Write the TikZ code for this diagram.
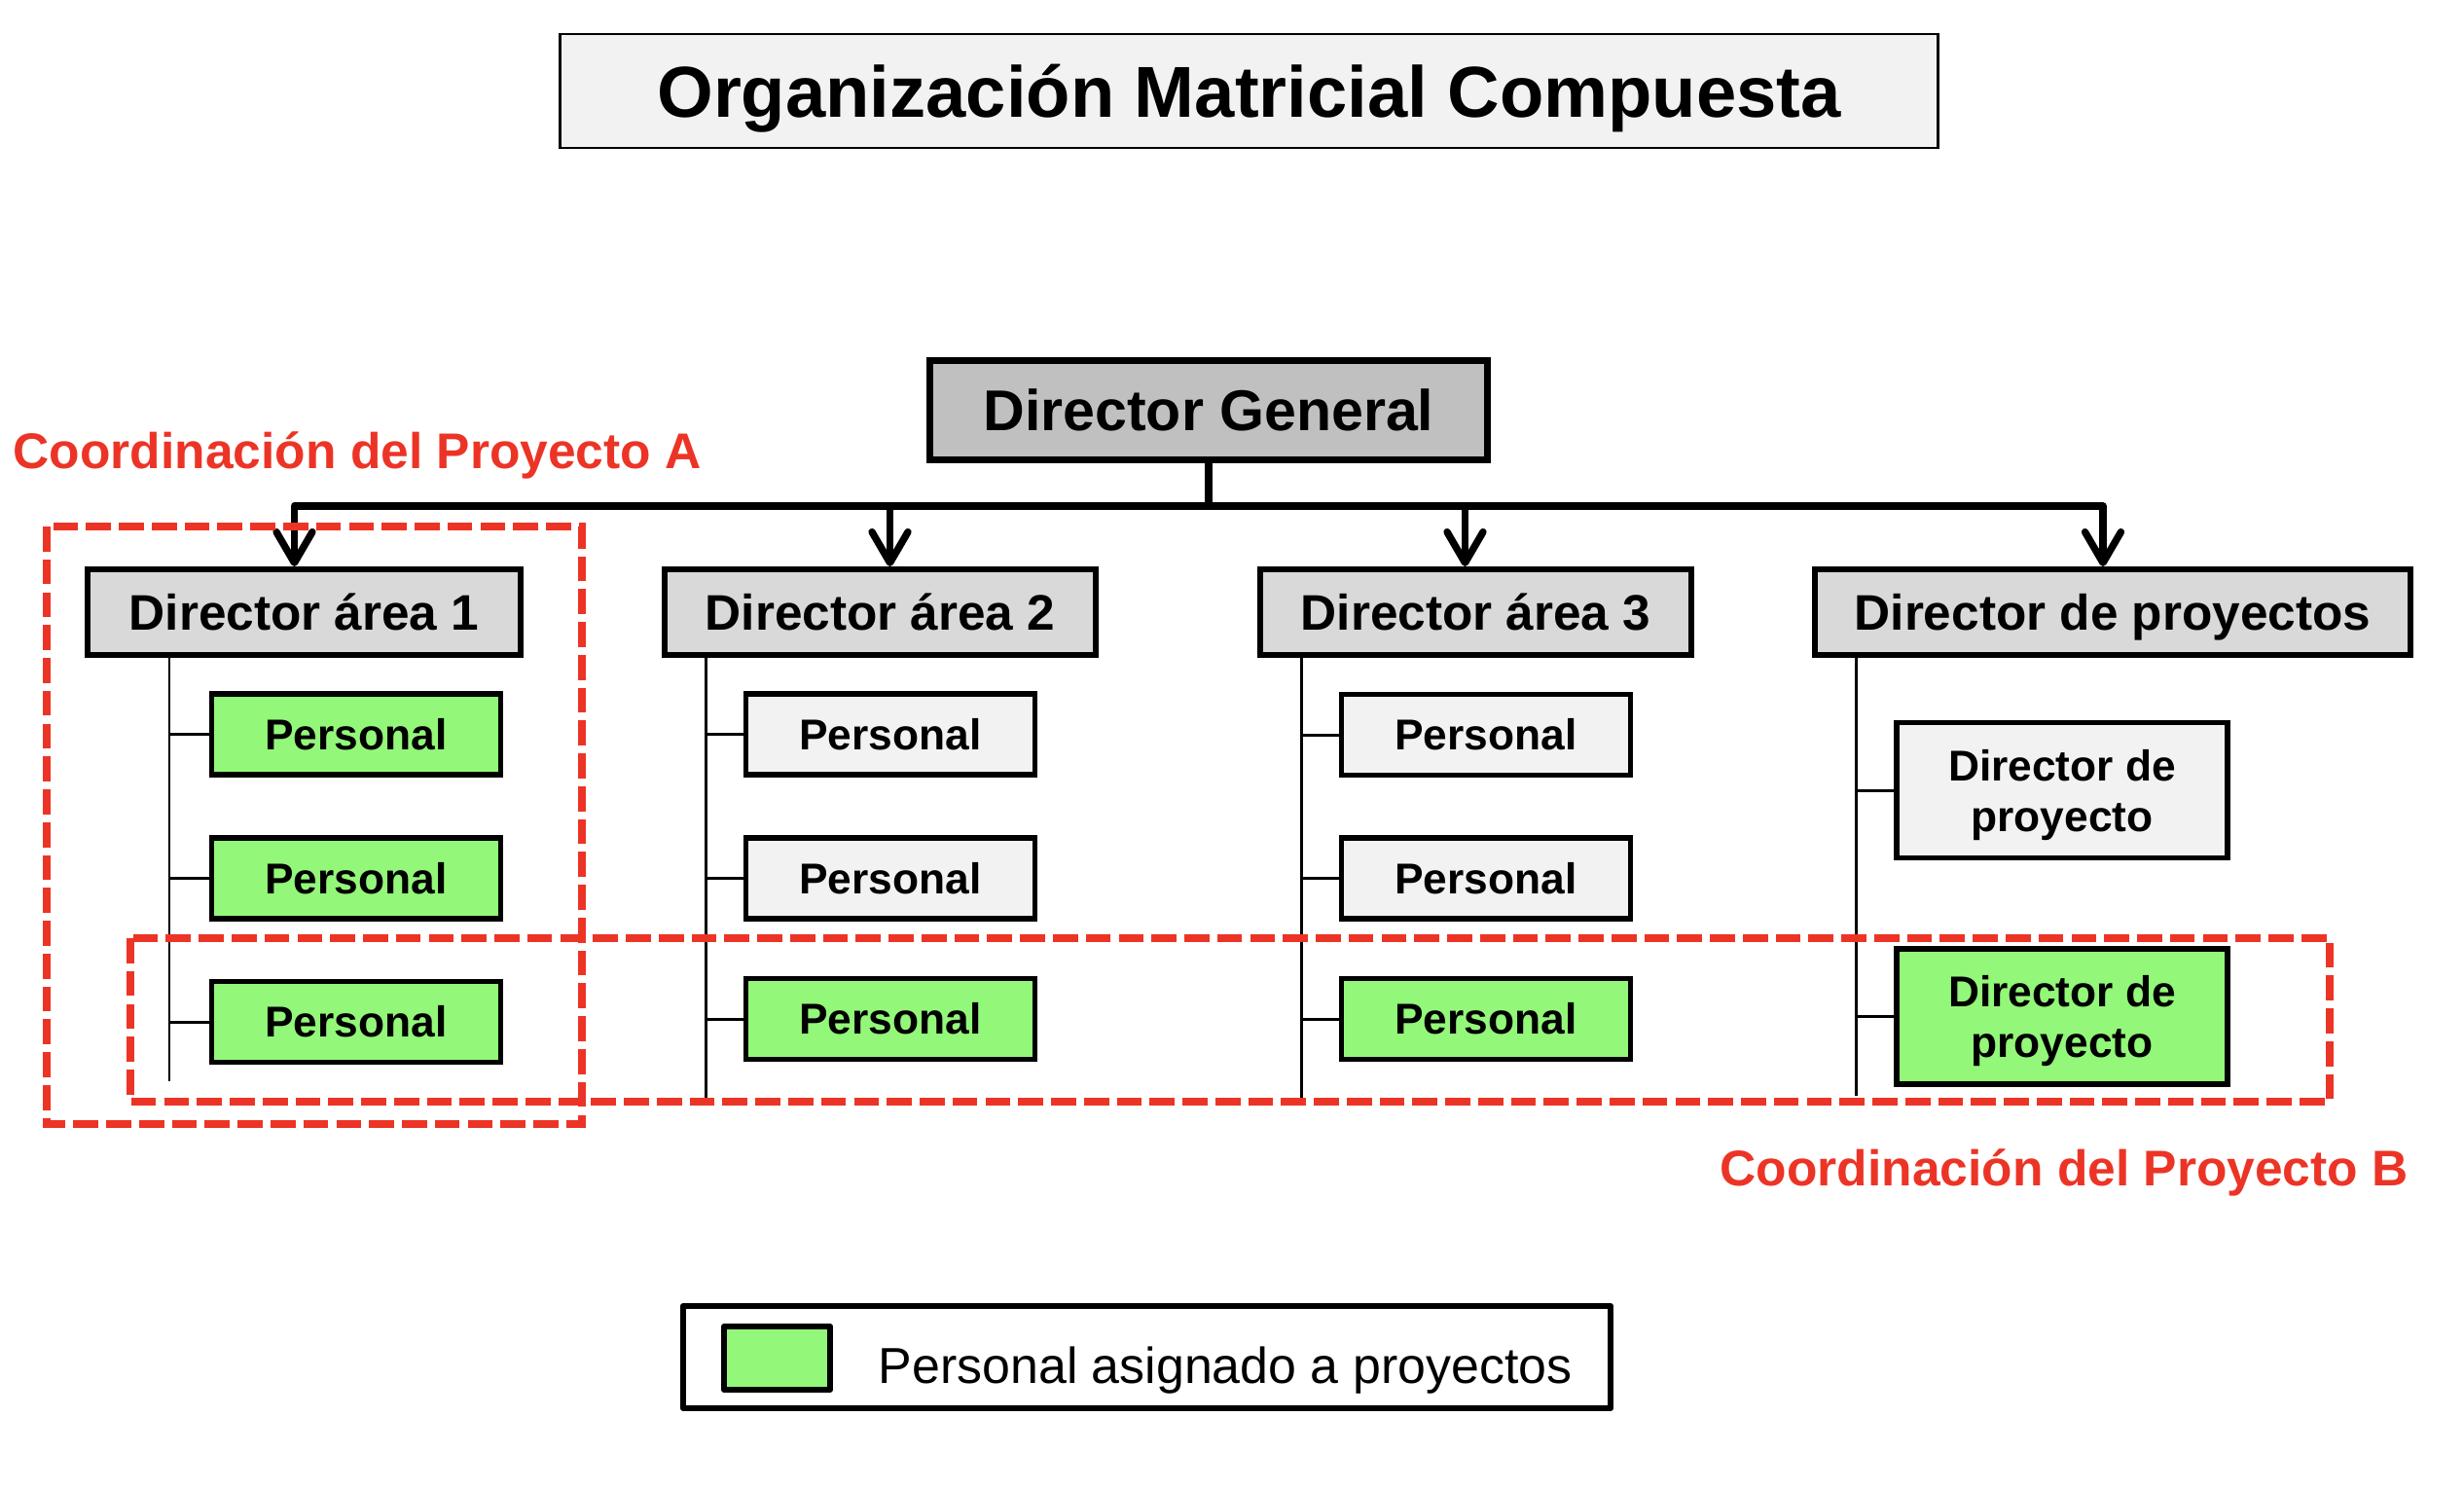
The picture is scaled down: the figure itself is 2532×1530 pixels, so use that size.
\documentclass[tikz,border=0pt]{standalone}
\usepackage{fontspec}
\setmainfont{Liberation Sans}
\usetikzlibrary{arrows.meta,calc}
\definecolor{grn}{RGB}{147,247,121}
\definecolor{rd}{RGB}{236,52,38}
\definecolor{lgray}{RGB}{242,242,242}
\definecolor{mgray}{RGB}{217,217,217}
\definecolor{dgray}{RGB}{192,192,192}
\begin{document}
\begin{tikzpicture}[x=0.01cm,y=-0.01cm,
  box/.style={draw=black, inner sep=0pt},
  titlebox/.style={box, fill=lgray, line width=0.7pt, font=\fontsize{21.1}{25}\selectfont\bfseries,
    text height=15.1pt, text depth=0pt, minimum width=14.15cm, minimum height=1.17cm},
  dgbox/.style={box, fill=dgray, line width=2pt, font=\fontsize{16.8}{20}\selectfont\bfseries,
    text height=12pt, text depth=0pt, minimum width=5.72cm, minimum height=1.01cm},
  areabox/.style={box, fill=mgray, line width=1.7pt, font=\fontsize{14.6}{17}\selectfont\bfseries,
    text height=10.45pt, text depth=0pt, minimum height=0.88cm},
  pbox/.style={box, line width=1.6pt, font=\fontsize{12.6}{14.8}\selectfont\bfseries,
    text height=9pt, text depth=0pt, minimum width=2.97cm, minimum height=0.83cm},
  pgreen/.style={pbox, fill=grn},
  pgray/.style={pbox, fill=lgray},
  dpbox/.style={box, line width=1.6pt, font=\fontsize{12.6}{14.8}\selectfont\bfseries,
    align=center, text depth=0pt, minimum width=3.40cm, minimum height=1.39cm},
  busline/.style={line width=2.1pt, line join=round},
  arr/.style={-{Straight Barb[length=9pt,width=10.5pt,round]}},
  stem/.style={line width=0.85pt},
  coordbox/.style={draw=rd, line width=2.3pt, dash pattern=on 7.3pt off 2.3pt},
  coordtext/.style={text=rd, font=\fontsize{14.65}{17}\selectfont\bfseries, inner sep=0pt, anchor=base west}
]
\fill[white] (0,0) rectangle (2532,1530);
\useasboundingbox (0,0) rectangle (2532,1530);

% title
\node[titlebox] (title) at (1283.5,93.5) {Organización Matricial Compuesta};

% top level
\node[dgbox] (dg) at (1242,421.5) {Director General};
\node[areabox, minimum width=4.45cm] (a1) at (312.5,629) {Director área 1};
\node[areabox, minimum width=4.43cm] (a2) at (904.5,629) {Director área 2};
\node[areabox, minimum width=4.43cm] (a3) at (1516.5,629) {Director área 3};
\node[areabox, minimum width=6.12cm] (dp) at (2171,629) {Director de proyectos};

% staff
\node[pgreen] (p11) at (366,754.5) {Personal};
\node[pgreen] (p12) at (366,902.5) {Personal};
\node[pgreen] (p13) at (366,1050) {Personal};
\node[pgray]  (p21) at (915,754.5) {Personal};
\node[pgray]  (p22) at (915,902.5) {Personal};
\node[pgreen] (p23) at (915,1047) {Personal};
\node[pgray]  (p31) at (1527,755) {Personal};
\node[pgray]  (p32) at (1527,902.5) {Personal};
\node[pgreen] (p33) at (1527,1047) {Personal};
\node[dpbox, fill=lgray] (d1) at (2119,812) {Director de\\proyecto};
\node[dpbox, fill=grn]   (d2) at (2119,1044.5) {Director de\\proyecto};

% bus with arrows
\coordinate (bj) at (dg.south |- 0,520);
\coordinate (t1) at ([xshift=-0.1cm]a1.north);
\coordinate (t2) at ([xshift=0.1cm]a2.north);
\coordinate (t3) at ([xshift=-0.11cm]a3.north);
\coordinate (t4) at ([xshift=-0.1cm]dp.north);
\draw[busline] (dg.south) -- (bj);
\draw[busline, arr] (bj) -| (t1);
\draw[busline, arr] (bj) -| (t4);
\draw[busline, arr] (t2 |- bj) -- (t2);
\draw[busline, arr] (t3 |- bj) -- (t3);

% vertical stems
\coordinate (v1t) at (a1.south -| 174,0);
\coordinate (v1b) at (174,1111);
\coordinate (v2t) at (a2.south -| 725,0);
\coordinate (v2b) at (725,1128);
\coordinate (v3t) at (a3.south -| 1337,0);
\coordinate (v3b) at (1337,1131);
\coordinate (v4t) at (dp.south -| 1907,0);
\coordinate (v4b) at (1907,1126);
\draw[stem] (v1t) -- (v1b);
\draw[stem] (v2t) -- (v2b);
\draw[stem] (v3t) -- (v3b);
\draw[stem] (v4t) -- (v4b);
\foreach \c/\n in {v1t/p11,v1t/p12,v1t/p13,v2t/p21,v2t/p22,v2t/p23,v3t/p31,v3t/p32,v3t/p33,v4t/d1,v4t/d2}
  \draw[stem] (\c |- \n.west) -- (\n.west);

% coordination areas
\draw[coordbox] (48,541) rectangle (598,1155);
\draw[coordbox] (134,964) rectangle (2394,1132);
\node[coordtext] (ca) at (13,481) {Coordinación del Proyecto A};
\node[coordtext] (cb) at (1767,1218) {Coordinación del Proyecto B};

% legend
\node[draw, line width=1.65pt, line join=round, fill=white, minimum width=9.53cm, minimum height=1.05cm] (leg) at (1178.5,1394.5) {};
\node[draw, line width=1.7pt, line join=round, fill=grn, minimum width=1.09cm, minimum height=0.65cm] (legsq) at (798.5,1395.5) {};
\node[inner sep=0pt, anchor=base west, font=\fontsize{14.76}{17}\selectfont] (legt) at (902,1421) {Personal asignado a proyectos};
\end{tikzpicture}
\end{document}
